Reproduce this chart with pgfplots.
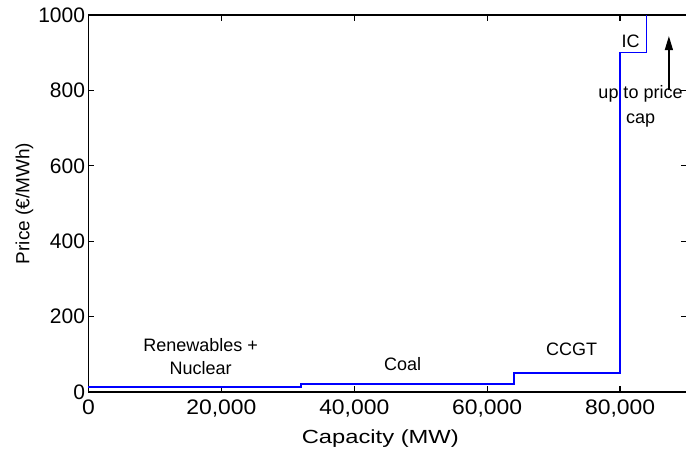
\documentclass[border=0pt]{standalone}
\usepackage{fontspec}
\setmainfont{Liberation Sans}
\newfontfamily\xtickfont[FakeStretch=1.09]{Liberation Sans}
\newfontfamily\xlabfont[FakeStretch=1.25]{Liberation Sans}
\usepackage{pgfplots}
\pgfplotsset{compat=1.18}
\usetikzlibrary{arrows.meta}
\begin{document}
\begin{tikzpicture}
\useasboundingbox (-88.5bp,-59bp) rectangle (597.5bp,392bp);
\begin{axis}[
  width=598bp, height=377bp, scale only axis,
  xmin=0, xmax=90000, ymin=0, ymax=1000,
  xtick={0,20000,40000,60000,80000},
  ytick={0,200,400,600,800,1000},
  tick align=inside, tick pos=both,
  major tick length=6bp,
  scaled x ticks=false, scaled y ticks=false,
  /pgf/number format/assume math mode=true,
  xticklabel style={/pgf/number format/1000 sep={,}, font=\fontsize{21bp}{24bp}\xtickfont, yshift=-4bp},
  yticklabel style={/pgf/number format/1000 sep={}, font=\fontsize{21bp}{24bp}\selectfont},
  axis line style={line width=1.6bp, black},
  tick style={line width=1.2bp, black},
  xlabel={Capacity (MW)}, ylabel={Price (€/MWh)},
  every axis x label/.style={at={(axis description cs:0.488,0)}, anchor=center, yshift=-47bp, font=\fontsize{19bp}{22bp}\xlabfont},
  every axis y label/.style={at={(axis description cs:-0.107,0.5)}, anchor=center, rotate=90, font=\fontsize{19bp}{22bp}\selectfont},
  clip=false,
]
\addplot[blue, line width=1.6bp, line join=miter] coordinates {
  (0,13) (32000,13) (32000,22) (64000,22) (64000,51) (80000,51) (80000,900) (84000,900) (84000,1000)
};
\node[align=center, font=\fontsize{18bp}{23bp}\selectfont] at (axis cs:16870,94) {Renewables +\\Nuclear};
\node[font=\fontsize{18bp}{23bp}\selectfont] at (axis cs:47290,74) {Coal};
\node[font=\fontsize{18bp}{23bp}\selectfont] at (axis cs:72700,112) {CCGT};
\node[font=\fontsize{18bp}{23bp}\selectfont] at (axis cs:81600,929) {IC};
\node[align=center, font=\fontsize{18bp}{25bp}\selectfont] at (axis cs:83080,759) {up to price\\cap};
\draw[line width=1.4bp, -{Triangle[length=14bp, width=8bp]}] (axis cs:87350,801) -- (axis cs:87350,944);
\end{axis}
\end{tikzpicture}
\end{document}
